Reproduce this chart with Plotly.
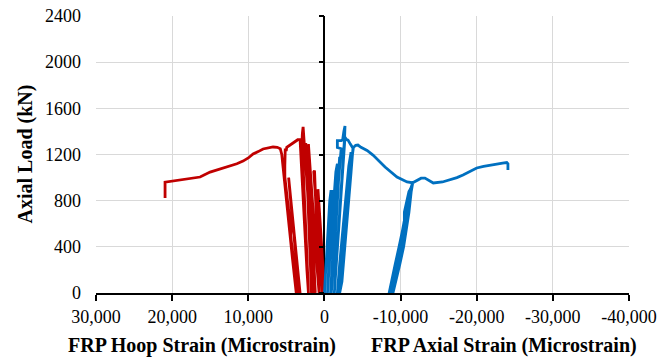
import plotly.graph_objects as go

# ---- data (strain in microstrain, load in kN) ----
hoop_strain = [0, 200, 450, 700, 850, 700, 500, 300,
               600, 900, 1200, 1400, 1300, 1150, 900, 700,
               1000, 1300, 1600, 1900, 2100, 1900, 1600, 1400, 1200,
               1500, 1800, 2100, 2300, 2200, 1900, 1600, 1400,
               1700, 2000, 2300, 2550, 2450, 2200, 1900, 1700,
               1500, 1800, 2100, 2400, 2600, 2750, 2800, 2900, 2950, 2800, 2600, 2400, 2200, 2100,
               2300, 2600, 2850, 3000, 3150, 3200,
               3500, 3900, 4300, 4700, 4950, 5000, 5150, 5200, 5200,
               4850, 4400, 4450, 4000, 3500,
               3200, 3650, 4050, 4500, 4700,
               4300, 3900, 3500, 3400,
               3700, 4200, 4700, 5200, 5600, 5800,
               6200, 6750, 7400, 8060, 8700, 9370, 10000, 10690, 11500, 12400, 13700,
               15020, 16330, 18000, 20270, 20930, 20930]
hoop_load = [0, 250, 500, 750, 900, 650, 350, 0,
             300, 600, 900, 1050, 1060, 750, 400, 0,
             250, 550, 850, 1150, 1290, 1000, 600, 300, 0,
             200, 500, 800, 1100, 1150, 800, 400, 0,
             300, 650, 1000, 1250, 1300, 900, 450, 0,
             200, 500, 800, 1100, 1300, 1420, 1440, 1380, 1300, 1100, 800, 500, 200, 0,
             200, 550, 850, 1050, 1250, 1330,
             1328, 1310, 1290, 1270, 1262, 1240, 1240, 1100, 1005,
             800, 550, 500, 280, 0,
             0, 300, 620, 930, 1000,
             700, 420, 150, 0,
             0, 300, 620, 940, 1200, 1250,
             1262, 1265, 1255, 1248, 1225, 1204, 1170, 1143, 1120, 1100, 1072,
             1048, 1005, 990, 970, 960, 823]

axial_strain = [0, -200, -450, -700, -850, -1000, -1000, -800, -600, -400,
                -600, -900, -1200, -1500, -1700, -1550, -1250, -1000, -800,
                -1000, -1300, -1600, -1900, -2000, -1800, -1500, -1200, -900,
                -1100, -1400, -1700, -2000, -2200, -1700, -1700, -2200, -2400, -2550, -2700,
                -2650, -2400, -2100, -1800, -1500, -1300,
                -1500, -1800, -2100, -2400, -2600, -2700, -2900, -3100, -3400, -3750,
                -3500, -3200, -2900, -2600, -2300, -2000,
                -1700, -2000, -2400, -2800, -3200, -3500, -3400, -3000, -2600, -2200, -1900,
                -2100, -2400, -2800, -3000, -3000, -3200, -3500, -3800, -4100,
                -4400, -4800, -5600, -6380, -7960, -9530, -10850, -11600,
                -11400, -11100, -10800, -10400, -9900, -9400, -9000,
                -8500, -8800, -9300, -9800, -10300, -10500, -10500, -10800, -11100, -11300,
                -11000, -10600, -10100, -9600, -9100, -8700,
                -9000, -9500, -10000, -10400, -10900, -11200, -11600,
                -12300, -12700, -13200, -13700, -14300, -15500, -16500, -17400, -18200,
                -19100, -20000, -20900, -21700, -22600, -23400, -23950, -24100, -24100]
axial_load = [0, 250, 550, 800, 880, 880, 800, 500, 250, 0,
              200, 500, 800, 1050, 1120, 850, 500, 200, 0,
              200, 500, 800, 1100, 1180, 900, 550, 250, 0,
              250, 550, 850, 1100, 1250, 1260, 1320, 1320, 1330, 1400, 1447,
              1350, 1100, 800, 500, 250, 0,
              200, 450, 750, 1050, 1250, 1350, 1330, 1325, 1290, 1255,
              1050, 800, 550, 300, 100, 0,
              0, 250, 550, 850, 1100, 1220, 1100, 800, 500, 200, 0,
              200, 450, 700, 800, 850, 950, 1150, 1260, 1280,
              1282, 1262, 1235, 1195, 1092, 1005, 962, 955,
              880, 700, 550, 400, 250, 100, 0,
              0, 100, 250, 400, 550, 620, 700, 800, 880, 900,
              750, 550, 350, 200, 80, 0,
              100, 250, 450, 600, 780, 880, 955,
              980, 995, 996, 975, 953, 962, 979, 1000, 1022,
              1055, 1083, 1098, 1109, 1120, 1126, 1130, 1120, 1065]

x_tick_vals = [30000, 20000, 10000, 0, -10000, -20000, -30000, -40000]
x_tick_labels = ["30,000", "20,000", "10,000", "0", "-10,000", "-20,000", "-30,000", "-40,000"]
y_tick_vals = [0, 400, 800, 1200, 1600, 2000, 2400]

RED = "#C00000"
BLUE = "#0070C0"
FONT = "Liberation Serif"

fig = go.Figure()
fig.add_trace(go.Scatter(x=hoop_strain, y=hoop_load, mode="lines",
                         line=dict(color=RED, width=2.8), name="FRP Hoop Strain"))
fig.add_trace(go.Scatter(x=axial_strain, y=axial_load, mode="lines", yaxis="y2",
                         line=dict(color=BLUE, width=2.8), name="FRP Axial Strain"))

fig.update_layout(
    width=658, height=360,
    margin=dict(l=96, r=29, t=16, b=67, autoexpand=False),
    plot_bgcolor="white", paper_bgcolor="white",
    showlegend=False,
    font=dict(family=FONT, size=18, color="black"),
    xaxis=dict(range=[30000, -40000], tickvals=x_tick_vals, ticktext=x_tick_labels,
               showgrid=True, gridcolor="#D9D9D9", gridwidth=1,
               showline=True, linecolor="black", linewidth=2,
               ticks="outside", ticklen=6, tickwidth=2, tickcolor="black",
               zeroline=True, zerolinecolor="black", zerolinewidth=2,
               automargin=False, ticklabeloverflow="allow",
               tickfont=dict(family=FONT, size=18), ticklabelstandoff=0),
    yaxis=dict(range=[0, 2400], tickvals=y_tick_vals,
               showgrid=True, gridcolor="#D9D9D9", gridwidth=1,
               zeroline=False, showline=False, ticks="", automargin=False,
               ticklabeloverflow="allow",
               tickfont=dict(family=FONT, size=18), ticklabelstandoff=14),
    yaxis2=dict(range=[0, 2400], tickvals=y_tick_vals, overlaying="y",
                anchor="free", position=30000 / 70000, side="left",
                showticklabels=False, showgrid=False, zeroline=False, showline=False,
                automargin=False,
                ticks="outside", ticklen=5, tickwidth=1.5, tickcolor="black"),
    annotations=[
        dict(text="<b>Axial Load (kN)</b>", xref="paper", yref="paper",
             x=(25 - 96) / 533, y=0.5, textangle=-90, showarrow=False,
             xanchor="center", yanchor="middle", font=dict(family=FONT, size=20)),
        dict(text="<b>FRP Hoop Strain (Microstrain)</b>", xref="paper", yref="paper",
             x=(202 - 96) / 533, y=(293 - 345) / 277, showarrow=False,
             xanchor="center", yanchor="middle", font=dict(family=FONT, size=20)),
        dict(text="<b>FRP Axial Strain (Microstrain)</b>", xref="paper", yref="paper",
             x=(504 - 96) / 533, y=(293 - 345) / 277, showarrow=False,
             xanchor="center", yanchor="middle", font=dict(family=FONT, size=20)),
    ],
)

# remove the page's default 8px body margin so the 658x360 figure fills the window
fig.write_html("out.html",
               config={"displayModeBar": False},
               post_script="document.body.style.margin='0';document.body.style.overflow='hidden';")
